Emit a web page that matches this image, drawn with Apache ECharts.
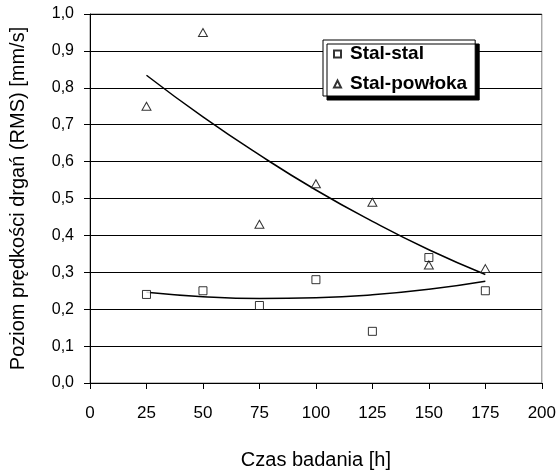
<!DOCTYPE html>
<html>
<head>
<meta charset="utf-8">
<script src="https://cdn.jsdelivr.net/npm/echarts@6/dist/echarts.min.js"></script>
<style>
  html, body { margin: 0; padding: 0; background: #fff; }
  #chartWrapper { width: 559px; height: 475px; }
</style>
</head>
<body>
<div id="chartWrapper"></div>
<script>
// czas badania [h]
let hours = [25, 50, 75, 100, 125, 150, 175];
// pomiary
let stalStal = [0.24, 0.25, 0.21, 0.28, 0.14, 0.34, 0.25];
let stalPowloka = [0.75, 0.95, 0.43, 0.54, 0.49, 0.32, 0.31];
// linie trendu
let trendStal = [0.246, 0.234, 0.229, 0.231, 0.239, 0.254, 0.276];
let trendPowloka = [0.834, 0.721, 0.618, 0.523, 0.438, 0.361, 0.294];

let xTicks = [0, 25, 50, 75, 100, 125, 150, 175, 200];
let yTicks = [0, 0.1, 0.2, 0.3, 0.4, 0.5, 0.6, 0.7, 0.8, 0.9, 1.0];

function pairs(xs, ys) {
    return xs.map(function (x, i) { return [x, ys[i]]; });
}

let myChart = echarts.init(document.getElementById('chartWrapper'));
let font = 'Arial, "Liberation Sans", sans-serif';

let option = {
    animation: false,
    textStyle: { fontFamily: font },
    grid: {
        left: 89,
        right: 16,
        top: 14,
        bottom: 89,
        show: true,
        borderColor: '#808080',
        borderWidth: 1
    },
    legend: {
        orient: 'vertical',
        left: 323,
        top: 40,
        padding: [4, 8, 2, 10],
        itemWidth: 7,
        itemHeight: 7,
        itemGap: 10,
        backgroundColor: '#fff',
        borderColor: '#000',
        borderWidth: 1,
        borderRadius: 0,
        shadowColor: '#000',
        shadowBlur: 0,
        shadowOffsetX: 4,
        shadowOffsetY: 4,
        data: [
            { name: 'Stal-stal', icon: 'rect' },
            { name: 'Stal-powłoka', icon: 'triangle' }
        ],
        textStyle: {
            fontFamily: font,
            fontSize: 19,
            fontWeight: 'bold',
            color: '#000',
            lineHeight: 20,
            padding: [0, 0, 0, 4]
        }
    },
    xAxis: {
        type: 'value',
        min: 0,
        max: 200,
        interval: 25,
        name: 'Czas badania [h]',
        nameLocation: 'middle',
        nameGap: 67,
        nameTextStyle: { fontFamily: font, fontSize: 20, color: '#000' },
        axisLine: { lineStyle: { color: '#000', width: 1 } },
        axisTick: { show: true, length: 6, inside: false, lineStyle: { color: '#000' } },
        axisLabel: {
            margin: 22,
            fontFamily: font,
            fontSize: 17,
            color: '#000',
            formatter: function (v) { return xTicks.indexOf(v) >= 0 ? String(v) : ''; }
        },
        splitLine: { show: false }
    },
    yAxis: {
        type: 'value',
        min: 0,
        max: 1,
        interval: 0.1,
        name: 'Poziom prędkości drgań (RMS) [mm/s]',
        nameLocation: 'middle',
        nameGap: 62,
        nameTextStyle: { fontFamily: font, fontSize: 20, color: '#000' },
        axisLine: { show: true, lineStyle: { color: '#000', width: 1 } },
        axisTick: { show: true, length: 6, inside: false, lineStyle: { color: '#000' } },
        axisLabel: {
            margin: 16,
            fontFamily: font,
            fontSize: 16,
            color: '#000',
            formatter: function (v) {
                let t = yTicks.find(function (y) { return Math.abs(y - v) < 1e-9; });
                return t === undefined ? '' : t.toFixed(1).replace('.', ',');
            }
        },
        splitLine: { show: true, lineStyle: { color: '#000', width: 1 } }
    },
    series: [
        {
            name: 'trend-stal',
            type: 'line',
            data: pairs(hours, trendStal),
            smooth: 0.5,
            symbol: 'none',
            silent: true,
            lineStyle: { color: '#000', width: 1.5 },
            z: 2
        },
        {
            name: 'trend-powloka',
            type: 'line',
            data: pairs(hours, trendPowloka),
            smooth: 0.5,
            symbol: 'none',
            silent: true,
            lineStyle: { color: '#000', width: 1.5 },
            z: 2
        },
        {
            name: 'Stal-stal',
            type: 'scatter',
            data: pairs(hours, stalStal),
            symbol: 'rect',
            symbolSize: 8,
            itemStyle: { color: '#fff', borderColor: '#000', borderWidth: 1 },
            z: 3
        },
        {
            name: 'Stal-powłoka',
            type: 'scatter',
            data: pairs(hours, stalPowloka),
            symbol: 'triangle',
            symbolSize: [9, 8],
            itemStyle: { color: '#fff', borderColor: '#000', borderWidth: 1 },
            z: 3
        }
    ]
};

myChart.setOption(option);
</script>
</body>
</html>
